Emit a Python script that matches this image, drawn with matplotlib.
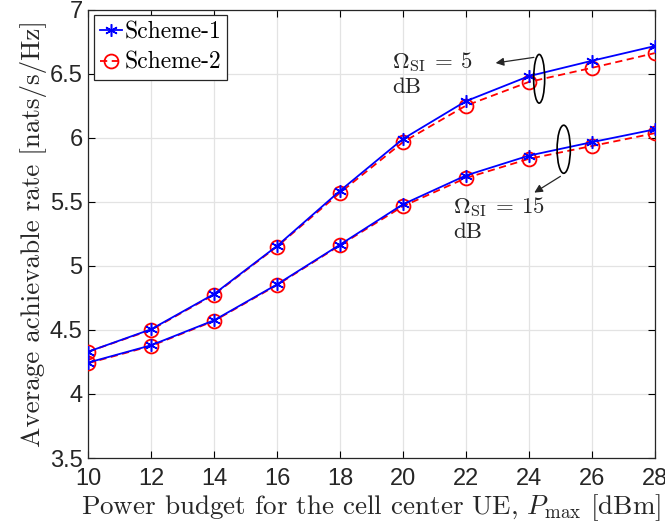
import numpy as np
import matplotlib
matplotlib.use("Agg")
import matplotlib.pyplot as plt
from matplotlib.patches import Ellipse

plt.rcParams['mathtext.fontset'] = 'cm'
plt.rcParams['axes.unicode_minus'] = False

p_max = [10, 12, 14, 16, 18, 20, 22, 24, 26, 28]

# Omega_SI = 5 dB
s1_si5 = [4.33, 4.505, 4.78, 5.155, 5.585, 5.99, 6.285, 6.48, 6.60, 6.715]
s2_si5 = [4.33, 4.50, 4.775, 5.15, 5.57, 5.965, 6.25, 6.435, 6.545, 6.66]
# Omega_SI = 15 dB
s1_si15 = [4.245, 4.38, 4.575, 4.855, 5.165, 5.48, 5.705, 5.86, 5.965, 6.065]
s2_si15 = [4.24, 4.375, 4.57, 4.85, 5.16, 5.465, 5.685, 5.835, 5.935, 6.035]

xticks = [10, 12, 14, 16, 18, 20, 22, 24, 26, 28]
yticks = [3.5, 4, 4.5, 5, 5.5, 6, 6.5, 7]
ytick_labels = ['3.5', '4', '4.5', '5', '5.5', '6', '6.5', '7']

asterisk = (6, 2, 0)

fig = plt.figure(figsize=(6.65, 5.32), dpi=100)
ax = fig.add_axes([0.1325, 0.139, 0.852, 0.843])

ax.plot(p_max, s1_si5, color='blue', lw=1.3, marker=asterisk, ms=9, mew=1.1, label='Scheme-1', zorder=4)
ax.plot(p_max, s2_si5, color='red', lw=1.3, ls='--', dashes=(4, 2.5), marker='o', ms=10, mfc='none', mew=1.3,
        label='Scheme-2', zorder=3)
ax.plot(p_max, s1_si15, color='blue', lw=1.3, marker=asterisk, ms=9, mew=1.1, zorder=4)
ax.plot(p_max, s2_si15, color='red', lw=1.3, ls='--', dashes=(4, 2.5), marker='o', ms=10, mfc='none', mew=1.3,
        zorder=3)

ax.set_xlim(10, 28)
ax.set_ylim(3.5, 7)
ax.set_xticks(xticks)
ax.set_yticks(yticks)
ax.set_yticklabels(ytick_labels)
ax.tick_params(direction='in', length=5, width=0.8, labelsize=17, top=True, right=True,
               labelcolor='#262626')
ax.tick_params(axis='x', pad=7)
ax.tick_params(axis='y', pad=4)
for lab in ax.get_xticklabels() + ax.get_yticklabels():
    lab.set_fontfamily('Liberation Sans')
ax.grid(True, color='#e3e3e3', lw=0.9)
ax.set_axisbelow(True)
for sp in ax.spines.values():
    sp.set_color('#262626')
    sp.set_linewidth(0.9)

ax.set_xlabel(r'Power budget for the cell center UE, $P_{\rm max}$ [dBm]', fontsize=19.5, fontfamily='cmr10',
              labelpad=2, color='#262626')
ax.set_ylabel('Average achievable rate [nats/s/Hz]', fontsize=19.5, fontfamily='cmr10', labelpad=2,
              color='#262626')

leg = ax.legend(loc='upper left', prop={'family': 'cmr10', 'size': 17}, fancybox=False, edgecolor='#262626',
                framealpha=1, borderpad=0.25, handlelength=0.95, handletextpad=0.1, labelspacing=0.35,
                borderaxespad=0.25)
leg.get_frame().set_linewidth(0.9)

# ellipses grouping the curve pairs
ax.add_patch(Ellipse((24.33, 6.46), 0.35, 0.38, fill=False, ec='black', lw=1.2, zorder=5))
ax.add_patch(Ellipse((25.11, 5.91), 0.42, 0.375, fill=False, ec='black', lw=1.2, zorder=5))

ax.annotate('', xy=(22.86, 6.58), xytext=(24.25, 6.63),
            arrowprops=dict(arrowstyle='-|>', color='#262626', lw=0.9, mutation_scale=12))
ax.annotate('', xy=(24.1, 5.56), xytext=(25.08, 5.71),
            arrowprops=dict(arrowstyle='-|>', color='#262626', lw=0.9, mutation_scale=12))

ax.text(19.65, 6.59, r'$\Omega_{\rm SI}\:=\:5$', fontsize=16.5, va='center', color='#262626')
ax.text(19.65, 6.39, 'dB', fontsize=16.5, va='center', fontfamily='cmr10', color='#262626')
ax.text(21.6, 5.46, r'$\Omega_{\rm SI}\:=\:15$', fontsize=16.5, va='center', color='#262626')
ax.text(21.6, 5.26, 'dB', fontsize=16.5, va='center', fontfamily='cmr10', color='#262626')

fig.savefig('out.png', dpi=100)
